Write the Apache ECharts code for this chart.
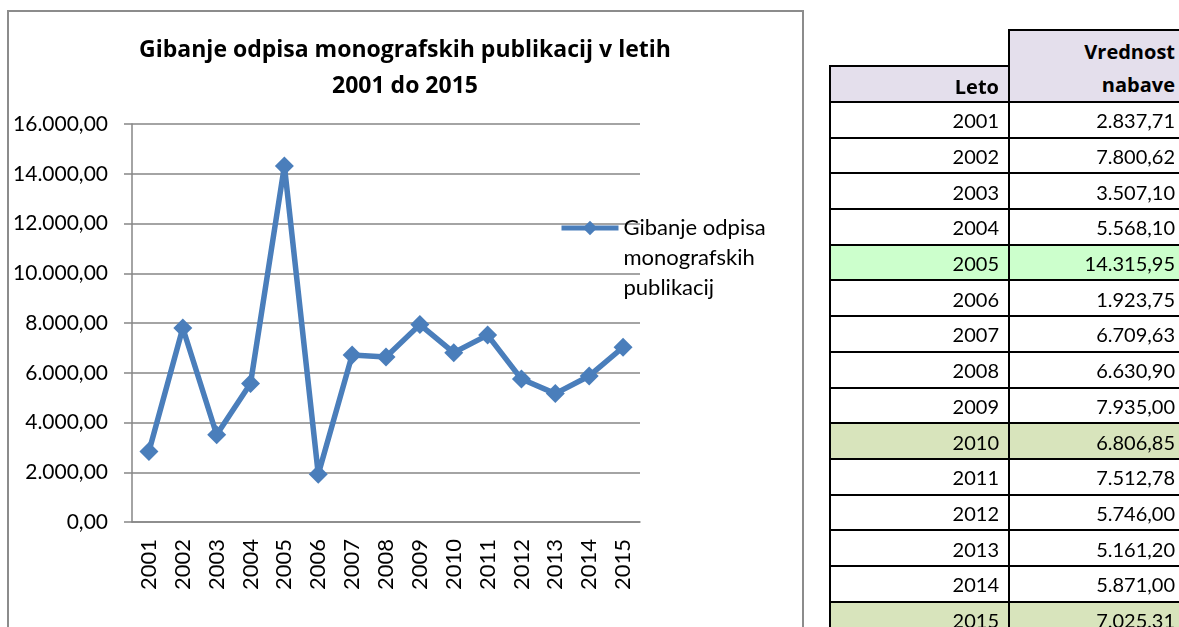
<!DOCTYPE html>
<html>
<head>
<meta charset="utf-8">
<script src="https://cdn.jsdelivr.net/npm/echarts@6/dist/echarts.min.js"></script>
<style>
  html, body { margin: 0; padding: 0; background: #fff; overflow: hidden; }
  #chart { position: absolute; left: 0; top: 0; width: 1179px; height: 627px; }
  #tbl { position: absolute; left: 829px; top: 29px; border-collapse: collapse; table-layout: fixed; width: 355px;
         font-family: Lato, "Open Sans", sans-serif; font-size: 20px; color: #000; }
  #tbl tr { height: 35.7px; }
  #tbl td { border: 2px solid #000; text-align: right; padding: 1px 9px 0 0; line-height: 20px; vertical-align: middle;
            white-space: nowrap; overflow: hidden; }
  #tbl td.blank { border: none; }
  #tbl td.hdr { background: #E4DFEC; font-weight: bold; font-family: "Open Sans", Lato, sans-serif; }
</style>
</head>
<body>
<div id="chart"></div>
<table id="tbl"></table>
<script>
// podatki
var leta = ['2001', '2002', '2003', '2004', '2005', '2006', '2007', '2008',
    '2009', '2010', '2011', '2012', '2013', '2014', '2015'];
var odpis = [2837.71, 7800.62, 3507.10, 5568.10, 14315.95, 1923.75, 6709.63, 6630.90,
    7935.00, 6806.85, 7512.78, 5746.00, 5161.20, 5871.00, 7025.31];
var imeSerije = 'Gibanje odpisa monografskih publikacij';
var naslov = 'Gibanje odpisa monografskih publikacij v letih\n2001 do 2015';

// 12345.6 -> "12.345,60"
function fmt(v) {
    var s = v.toFixed(2).split('.');
    return s[0].replace(/\B(?=(\d{3})+(?!\d))/g, '.') + ',' + s[1];
}

var font = 'Lato, "Open Sans", sans-serif';
var siva = '#868686';
var myChart = echarts.init(document.getElementById('chart'));
var option = {
    animation: false,
    title: {
        text: naslov,
        left: 400,
        top: 27,
        textAlign: 'center',
        textStyle: { fontFamily: '"Open Sans", Lato, sans-serif', fontSize: 23, fontWeight: 'bold', color: '#000', lineHeight: 36 }
    },
    legend: {
        left: 554,
        top: 148,
        itemWidth: 57,
        itemHeight: 18,
        itemGap: 4,
        // dve prazni vrstici, da je ikona poravnana s prvo vrstico besedila
        formatter: function () { return '\n\nGibanje odpisa\nmonografskih\npublikacij'; },
        textStyle: { fontFamily: font, fontSize: 22, color: '#000', lineHeight: 30 },
        lineStyle: { width: 5 },
        data: [imeSerije]
    },
    grid: { left: 132, right: 539, top: 124, bottom: 105 },
    xAxis: {
        type: 'category',
        data: leta,
        axisLine: { lineStyle: { color: siva, width: 1.5 } },
        axisTick: { length: 8, lineStyle: { color: siva, width: 1.5 } },
        axisLabel: { rotate: 90, margin: 17, interval: 0, fontFamily: font, fontSize: 22, color: '#000' }
    },
    yAxis: {
        type: 'value',
        min: 0,
        max: 16000,
        interval: 2000,
        axisLine: { show: true, lineStyle: { color: siva, width: 1.5 } },
        axisTick: { show: true, length: 8, lineStyle: { color: siva, width: 1.5 } },
        splitLine: { lineStyle: { color: siva, width: 1.5 } },
        axisLabel: { margin: 24, fontFamily: font, fontSize: 21, color: '#000', formatter: fmt }
    },
    series: [{
        name: imeSerije,
        type: 'line',
        data: odpis,
        symbol: 'diamond',
        symbolSize: 19,
        color: '#4A7EBB',
        lineStyle: { width: 5.5, color: '#4A7EBB' },
        itemStyle: { color: '#4A7EBB' }
    }],
    graphic: [{
        type: 'rect',
        shape: { x: 8, y: 11, width: 795, height: 700 },
        style: { fill: 'none', stroke: '#8c8c8c', lineWidth: 2 },
        silent: true
    }]
};
myChart.setOption(option);

// tabela
var barve = { '2005': '#CCFFCC', '2010': '#D8E4BC', '2015': '#D8E4BC' };
var html = '<colgroup><col style="width:179px"><col style="width:176px"></colgroup>' +
    '<tr><td class="blank"></td>' +
    '<td class="hdr" rowspan="2" style="line-height:33px;vertical-align:top;padding-top:4px">Vrednost<br>nabave</td></tr>' +
    '<tr><td class="hdr" style="line-height:28px;vertical-align:bottom;padding-top:0">Leto</td></tr>';
for (var i = 0; i < leta.length; i++) {
    var bg = barve[leta[i]] ? ' style="background:' + barve[leta[i]] + '"' : '';
    html += '<tr' + bg + '><td>' + leta[i] + '</td><td>' + fmt(odpis[i]) + '</td></tr>';
}
document.getElementById('tbl').innerHTML = html;
</script>
</body>
</html>
